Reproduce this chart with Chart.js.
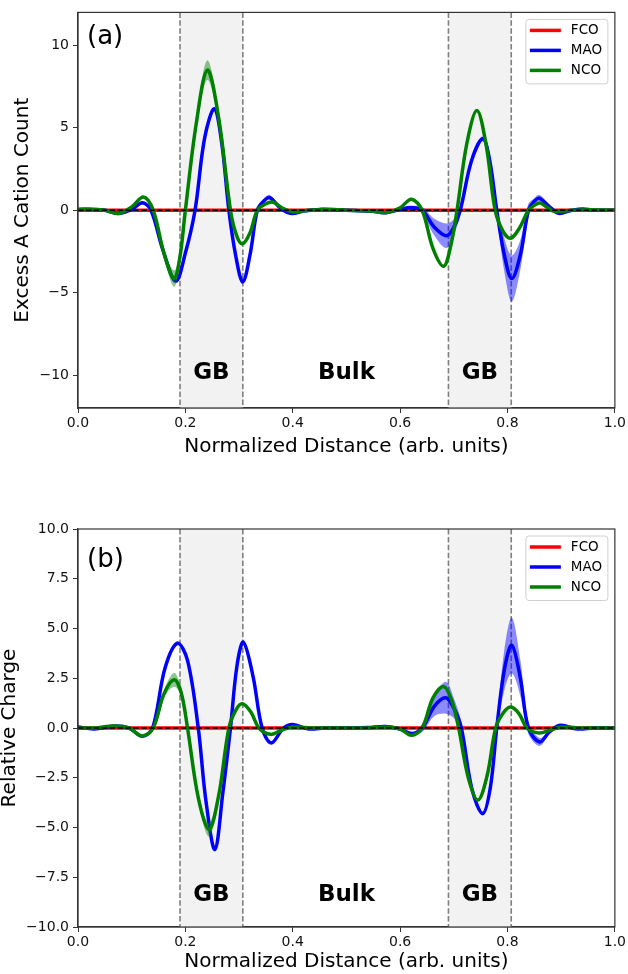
<!DOCTYPE html>
<html>
<head>
<meta charset="utf-8">
<script src="https://cdn.jsdelivr.net/npm/chart.js@4.4.0/dist/chart.umd.min.js"></script>
<style>
  body { margin: 0; background: #fff; }
  #wrapA { position: absolute; left: 0; top: 0; }
  #wrapB { position: absolute; left: 0; top: 460px; }
</style>
</head>
<body>
<div id="wrapA"><canvas id="plotA" width="628" height="460"></canvas></div>
<div id="wrapB"><canvas id="plotB" width="628" height="514"></canvas></div>
<script>
// grain boundary regions (normalized distance)
const gbRegions = [[0.19, 0.307], [0.69, 0.807]]
const xTicks = [0, 0.2, 0.4, 0.6, 0.8, 1.0]

// FCO is flat in both panels
const fcoX = [0, 0.5, 1]
const fcoY = [0, 0, 0]

// panel (a) - excess A cation count
const maoAX = [0, 0.03, 0.05, 0.075, 0.10, 0.12, 0.136, 0.158, 0.182, 0.20, 0.218, 0.236, 0.254, 0.268, 0.281, 0.294, 0.307, 0.321, 0.334, 0.346, 0.357, 0.378, 0.398, 0.42, 0.45, 0.50, 0.545, 0.573, 0.60, 0.62, 0.641, 0.663, 0.686, 0.699, 0.712, 0.733, 0.754, 0.767, 0.780, 0.794, 0.808, 0.824, 0.839, 0.849, 0.859, 0.877, 0.895, 0.918, 0.94, 0.96, 1.0]
const maoAY = [0.05, 0.05, 0.0, -0.2, 0.05, 0.45, 0.0, -2.4, -4.3, -2.6, 0.0, 4.4, 6.15, 4.0, 0.0, -2.8, -4.35, -2.6, 0.0, 0.55, 0.77, 0.1, -0.2, -0.05, 0.05, 0.0, -0.05, -0.15, 0.05, 0.17, 0.0, -1.0, -1.55, -1.1, 0.0, 3.0, 4.33, 3.0, 0.0, -2.7, -4.15, -2.7, 0.0, 0.5, 0.73, 0.25, -0.19, -0.02, 0.08, 0.0, 0.0]
const maoAErr = [0.03, 0.03, 0.03, 0.05, 0.05, 0.1, 0.1, 0.1, 0.12, 0.1, 0.1, 0.1, 0.1, 0.1, 0.1, 0.1, 0.12, 0.1, 0.1, 0.15, 0.15, 0.1, 0.05, 0.05, 0.03, 0.03, 0.03, 0.05, 0.05, 0.08, 0.2, 0.5, 0.75, 0.5, 0.3, 0.2, 0.15, 0.2, 0.3, 1.0, 1.4, 0.9, 0.4, 0.2, 0.2, 0.1, 0.05, 0.05, 0.05, 0.03, 0.03]

const ncoAX = [0, 0.03, 0.05, 0.075, 0.10, 0.122, 0.14, 0.16, 0.179, 0.19, 0.20, 0.22, 0.241, 0.262, 0.284, 0.295, 0.306, 0.32, 0.334, 0.348, 0.362, 0.38, 0.40, 0.43, 0.46, 0.50, 0.545, 0.573, 0.60, 0.621, 0.641, 0.661, 0.681, 0.694, 0.706, 0.724, 0.743, 0.760, 0.777, 0.792, 0.806, 0.822, 0.839, 0.85, 0.861, 0.875, 0.888, 0.92, 0.95, 1.0]
const ncoAY = [0.05, 0.05, 0.0, -0.2, 0.2, 0.8, 0.0, -2.6, -4.15, -2.8, 0.0, 5.2, 8.5, 5.6, 0.0, -1.5, -2.04, -1.4, 0.0, 0.35, 0.5, 0.15, -0.1, 0.0, 0.05, 0.0, -0.05, -0.15, 0.15, 0.67, 0.0, -2.3, -3.4, -2.2, 0.0, 4.0, 6.05, 4.0, 0.0, -1.3, -1.7, -1.1, 0.0, 0.3, 0.43, 0.15, -0.08, 0.0, 0.02, 0.0]
const ncoAErr = [0.03, 0.03, 0.03, 0.05, 0.05, 0.08, 0.08, 0.25, 0.5, 0.3, 0.2, 0.3, 0.6, 0.3, 0.1, 0.08, 0.08, 0.06, 0.05, 0.05, 0.05, 0.03, 0.03, 0.03, 0.03, 0.03, 0.03, 0.03, 0.03, 0.05, 0.05, 0.05, 0.06, 0.05, 0.05, 0.06, 0.08, 0.06, 0.05, 0.05, 0.05, 0.05, 0.05, 0.05, 0.05, 0.03, 0.03, 0.03, 0.03, 0.03]

// panel (b) - relative charge
const maoBX = [0, 0.03, 0.068, 0.095, 0.120, 0.139, 0.162, 0.185, 0.204, 0.224, 0.238, 0.255, 0.27, 0.284, 0.296, 0.308, 0.326, 0.343, 0.360, 0.383, 0.40, 0.43, 0.46, 0.50, 0.54, 0.573, 0.60, 0.622, 0.641, 0.664, 0.685, 0.70, 0.714, 0.734, 0.754, 0.768, 0.780, 0.794, 0.808, 0.824, 0.839, 0.860, 0.878, 0.898, 0.93, 0.96, 1.0]
const maoBY = [0.05, -0.05, 0.1, 0.0, -0.42, 0.0, 3.0, 4.26, 3.4, 0.0, -3.6, -6.1, -3.2, 0.0, 3.1, 4.31, 2.6, 0.0, -0.75, 0.0, 0.17, -0.05, 0.0, 0.0, 0.02, 0.08, -0.05, -0.28, 0.0, 1.1, 1.52, 1.0, 0.0, -3.1, -4.3, -3.0, 0.0, 2.9, 4.15, 2.5, 0.0, -0.7, -0.2, 0.14, -0.05, 0.0, 0.0]
const maoBErr = [0.03, 0.03, 0.03, 0.03, 0.05, 0.05, 0.08, 0.1, 0.1, 0.1, 0.1, 0.1, 0.1, 0.08, 0.08, 0.1, 0.08, 0.05, 0.05, 0.05, 0.03, 0.03, 0.03, 0.03, 0.03, 0.03, 0.03, 0.05, 0.2, 0.5, 0.8, 0.5, 0.3, 0.15, 0.1, 0.15, 0.3, 1.0, 1.4, 0.9, 0.3, 0.2, 0.08, 0.05, 0.03, 0.03, 0.03]

const ncoBX = [0, 0.03, 0.068, 0.095, 0.12, 0.14, 0.16, 0.179, 0.192, 0.204, 0.224, 0.244, 0.262, 0.281, 0.294, 0.306, 0.322, 0.337, 0.359, 0.38, 0.40, 0.44, 0.50, 0.54, 0.573, 0.60, 0.621, 0.641, 0.661, 0.681, 0.696, 0.709, 0.727, 0.745, 0.762, 0.778, 0.792, 0.806, 0.822, 0.836, 0.858, 0.88, 0.90, 0.94, 1.0]
const ncoBY = [0.0, 0.0, 0.1, 0.0, -0.4, 0.0, 1.7, 2.42, 1.8, 0.0, -3.5, -5.1, -3.4, 0.0, 0.9, 1.22, 0.8, 0.0, -0.32, -0.1, 0.05, 0.0, 0.0, 0.0, 0.05, -0.05, -0.37, 0.0, 1.5, 2.09, 1.4, 0.0, -2.5, -3.62, -2.4, 0.0, 0.75, 1.05, 0.7, 0.0, -0.25, -0.1, 0.05, 0.0, 0.0]
const ncoBErr = [0.03, 0.03, 0.03, 0.03, 0.05, 0.05, 0.2, 0.35, 0.2, 0.1, 0.2, 0.35, 0.2, 0.05, 0.05, 0.05, 0.05, 0.03, 0.03, 0.03, 0.03, 0.03, 0.03, 0.03, 0.03, 0.03, 0.05, 0.05, 0.05, 0.06, 0.05, 0.05, 0.05, 0.06, 0.05, 0.05, 0.05, 0.05, 0.05, 0.05, 0.05, 0.03, 0.03, 0.03, 0.03]

const legendItems = [['FCO', '#ff0000'], ['MAO', '#0000ff'], ['NCO', '#008000']]
const FONT = "'DejaVu Sans', sans-serif"

function minus(s) {
    return String(s).replace('-', '\u2212')
}

function pts(xs, ys) {
    return xs.map((x, i) => ({x: x, y: ys[i]}))
}

function band(xs, ys, es, sign) {
    return xs.map((x, i) => ({x: x, y: ys[i] + sign * es[i]}))
}

function makeDatasets(mx, my, me, nx, ny, ne) {
    return [
        {label: 'FCO', data: pts(fcoX, fcoY), borderColor: '#ff0000', borderWidth: 3.5, order: 7},
        {label: 'MAO hi', data: band(mx, my, me, 1), borderWidth: 0, borderColor: 'rgba(0,0,0,0)', backgroundColor: 'rgba(0,0,255,0.45)', fill: '+1', order: 6},
        {label: 'MAO lo', data: band(mx, my, me, -1), borderWidth: 0, borderColor: 'rgba(0,0,0,0)', fill: false, order: 5},
        {label: 'MAO', data: pts(mx, my), borderColor: '#0000ff', borderWidth: 3.5, order: 4},
        {label: 'NCO hi', data: band(nx, ny, ne, 1), borderWidth: 0, borderColor: 'rgba(0,0,0,0)', backgroundColor: 'rgba(0,128,0,0.45)', fill: '+1', order: 3},
        {label: 'NCO lo', data: band(nx, ny, ne, -1), borderWidth: 0, borderColor: 'rgba(0,0,0,0)', fill: false, order: 2},
        {label: 'NCO', data: pts(nx, ny), borderColor: '#008000', borderWidth: 3.5, order: 1}
    ]
}

const decor = {
    id: 'decor',
    beforeDatasetsDraw(chart, args, opts) {
        const ctx = chart.ctx
        const a = chart.chartArea
        const xs = chart.scales.x
        ctx.save()
        gbRegions.forEach(r => {
            const x0 = xs.getPixelForValue(r[0])
            const x1 = xs.getPixelForValue(r[1])
            ctx.fillStyle = '#f2f2f2'
            ctx.fillRect(x0, a.top, x1 - x0, a.bottom - a.top)
            ctx.strokeStyle = '#808080'
            ctx.lineWidth = 1.6
            ctx.setLineDash([5.5, 2.4])
            for (const px of [x0, x1]) {
                ctx.beginPath()
                ctx.moveTo(px, a.top)
                ctx.lineTo(px, a.bottom)
                ctx.stroke()
            }
        })
        ctx.restore()
    },
    afterDatasetsDraw(chart, args, opts) {
        const ctx = chart.ctx
        const a = chart.chartArea
        const xs = chart.scales.x
        const ys = chart.scales.y
        ctx.save()
        // zero reference line
        const y0 = ys.getPixelForValue(0)
        ctx.strokeStyle = '#000'
        ctx.lineWidth = 1.5
        ctx.setLineDash([5.5, 2.4])
        ctx.beginPath()
        ctx.moveTo(a.left, y0)
        ctx.lineTo(a.right, y0)
        ctx.stroke()
        ctx.setLineDash([])
        // region labels
        ctx.fillStyle = '#000'
        ctx.textAlign = 'center'
        ctx.textBaseline = 'middle'
        ctx.font = 'bold 23px ' + FONT
        const ty = ys.getPixelForValue(opts.textY)
        ctx.fillText('GB', xs.getPixelForValue((gbRegions[0][0] + gbRegions[0][1]) / 2), ty)
        ctx.fillText('Bulk', xs.getPixelForValue(0.5), ty)
        ctx.fillText('GB', xs.getPixelForValue((gbRegions[1][0] + gbRegions[1][1]) / 2), ty)
        // panel tag
        ctx.textAlign = 'left'
        ctx.font = '26px ' + FONT
        ctx.fillText(opts.tag, a.left + 9, a.top + opts.tagDy)
        ctx.restore()
    },
    afterDraw(chart, args, opts) {
        const ctx = chart.ctx
        const a = chart.chartArea
        ctx.save()
        ctx.strokeStyle = '#333'
        ctx.lineWidth = 1.2
        ctx.strokeRect(a.left, a.top, a.right - a.left, a.bottom - a.top)
        // legend box
        const bx = a.right - 89, by = a.top + 7
        ctx.fillStyle = 'rgba(255,255,255,0.8)'
        ctx.strokeStyle = '#d0d0d0'
        ctx.lineWidth = 1
        ctx.beginPath()
        ctx.roundRect(bx, by, 82, 64.5, 3)
        ctx.fill()
        ctx.stroke()
        ctx.font = '13.5px ' + FONT
        ctx.textBaseline = 'middle'
        ctx.textAlign = 'left'
        legendItems.forEach((it, i) => {
            const ly = by + 11 + i * 20
            ctx.strokeStyle = it[1]
            ctx.lineWidth = 3.5
            ctx.beginPath()
            ctx.moveTo(bx + 4, ly)
            ctx.lineTo(bx + 35, ly)
            ctx.stroke()
            ctx.fillStyle = '#000'
            ctx.fillText(it[0], bx + 45, ly)
        })
        ctx.restore()
    }
}

function makeChart(id, datasets, cfg) {
    return new Chart(document.getElementById(id), {
        type: 'line',
        data: {datasets: datasets},
        plugins: [decor],
        options: {
            responsive: false,
            animation: false,
            devicePixelRatio: 1,
            layout: {padding: {top: cfg.padTop, right: 11, left: 0, bottom: 0}},
            elements: {
                point: {radius: 0, hoverRadius: 0},
                line: {tension: 0.35, borderCapStyle: 'round'}
            },
            plugins: {
                legend: {display: false},
                tooltip: {enabled: false},
                decor: {tag: cfg.tag, textY: cfg.textY, tagDy: cfg.tagDy}
            },
            scales: {
                x: {
                    type: 'linear', min: 0, max: 1,
                    afterBuildTicks: s => { s.ticks = xTicks.map(v => ({value: v})) },
                    afterFit: s => { s.height = cfg.xAxisH },
                    ticks: {color: '#111', font: {family: FONT, size: 14}, padding: 2, maxRotation: 0,
                        callback: v => v.toFixed(1)},
                    grid: {display: true, drawOnChartArea: false, drawTicks: true, tickLength: 5, color: '#333'},
                    border: {color: '#333', width: 1.2},
                    title: {display: true, text: 'Normalized Distance (arb. units)', color: '#000',
                        font: {family: FONT, size: 20}, padding: {top: 0, bottom: cfg.xTitlePad}}
                },
                y: {
                    min: cfg.yMin, max: cfg.yMax,
                    afterBuildTicks: s => { s.ticks = cfg.yTicks.map(v => ({value: v})) },
                    afterFit: s => { s.width = 78 },
                    ticks: {color: '#111', font: {family: FONT, size: 14}, padding: 4,
                        callback: cfg.yFmt},
                    grid: {display: true, drawOnChartArea: false, drawTicks: true, tickLength: 5, color: '#333'},
                    border: {color: '#333', width: 1.2},
                    title: {display: true, text: cfg.yTitle, color: '#000',
                        font: {family: FONT, size: 20, lineHeight: 1}, padding: {top: cfg.yTitlePad, bottom: 0}}
                }
            }
        }
    })
}

makeChart('plotA', makeDatasets(maoAX, maoAY, maoAErr, ncoAX, ncoAY, ncoAErr), {
    padTop: 10, xAxisH: 52, xTitlePad: 1, yMin: -12, yMax: 12,
    yTicks: [-10, -5, 0, 5, 10], yFmt: v => minus(v),
    yTitle: 'Excess A Cation Count', yTitlePad: 13, tag: '(a)', textY: -9.9, tagDy: 25
})

makeChart('plotB', makeDatasets(maoBX, maoBY, maoBErr, ncoBX, ncoBY, ncoBErr), {
    padTop: 69, xAxisH: 47, xTitlePad: 0, yMin: -10, yMax: 10,
    yTicks: [-10, -7.5, -5, -2.5, 0, 2.5, 5, 7.5, 10], yFmt: v => minus(v.toFixed(1)),
    yTitle: 'Relative Charge', yTitlePad: 0, tag: '(b)', textY: -8.4, tagDy: 31
})
</script>
</body>
</html>
